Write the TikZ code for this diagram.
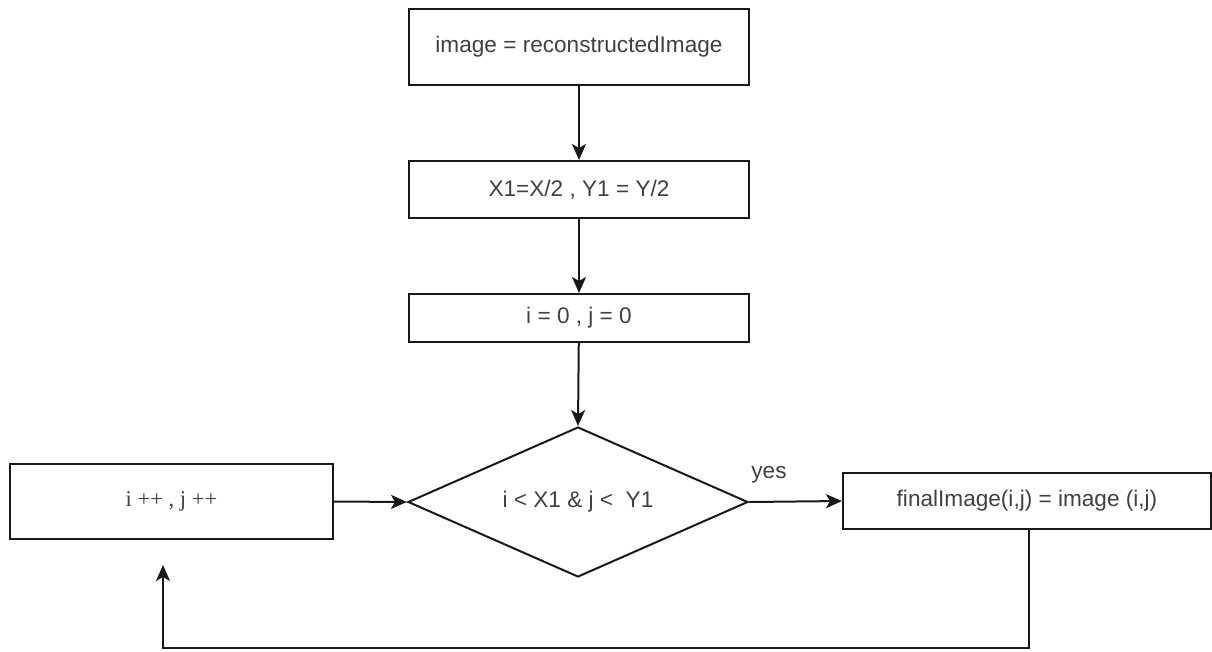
\documentclass[tikz,border=0pt]{standalone}
\usepackage{fontspec}
\setmainfont{Liberation Sans}
\newfontfamily\timesfont{Liberation Serif}
\usetikzlibrary{shapes.geometric,arrows.meta}
\tikzset{
  proc/.style={draw=black!90, line width=2pt, rectangle, inner sep=0pt, fill=white,
    text=black!75, font=\fontsize{22.6}{27}\selectfont},
  dec/.style={draw=black!90, line width=2pt, diamond, aspect=2.27, inner sep=0pt,
    minimum width=340pt, minimum height=150pt, text=black!75, font=\fontsize{22.6}{27}\selectfont},
  conn/.style={draw=black!90, line width=2pt, -{Stealth[length=16pt,width=14pt,inset=4pt]}},
  lbl/.style={text=black!75, font=\fontsize{22.6}{27}\selectfont, inner sep=0pt}
}
\begin{document}
\begin{tikzpicture}[x=1pt,y=-1pt]
\useasboundingbox (0,0) rectangle (1212,651);
\node[proc, minimum width=340pt, minimum height=76pt] (b1) at (579,47) {image = reconstructedImage};
\node[proc, minimum width=340pt, minimum height=57pt] (b2) at (579,189.5) {X1=X/2 , Y1 = Y/2};
\node[proc, minimum width=340pt, minimum height=48pt] (b3) at (579,318) {i = 0 , j = 0};
\node[dec] (d) at (578,502) {i < X1 \& j <\ \ Y1};
\node[proc, minimum width=323pt, minimum height=75pt] (lb) at (171.5,501.5) {\timesfont i ++ , j ++};
\node[proc, minimum width=368pt, minimum height=56pt] (rb) at (1027,501) {finalImage(i,j) = image (i,j)};
\node[lbl] (yes) at (769,475) {yes};
\coordinate (c1) at (1029,648);
\coordinate (c2) at (163,648);
\coordinate (tip) at (163,565);
\draw[conn] (b1) -- (b2);
\draw[conn] (b2) -- (b3);
\draw[conn] (b3) -- (d.north);
\draw[conn] (lb.east) -- (d.west);
\draw[conn] (d.east) -- (rb.west);
\draw[conn] (rb.south -| c1) -- (c1) -- (c2) -- (tip);
\end{tikzpicture}
\end{document}
